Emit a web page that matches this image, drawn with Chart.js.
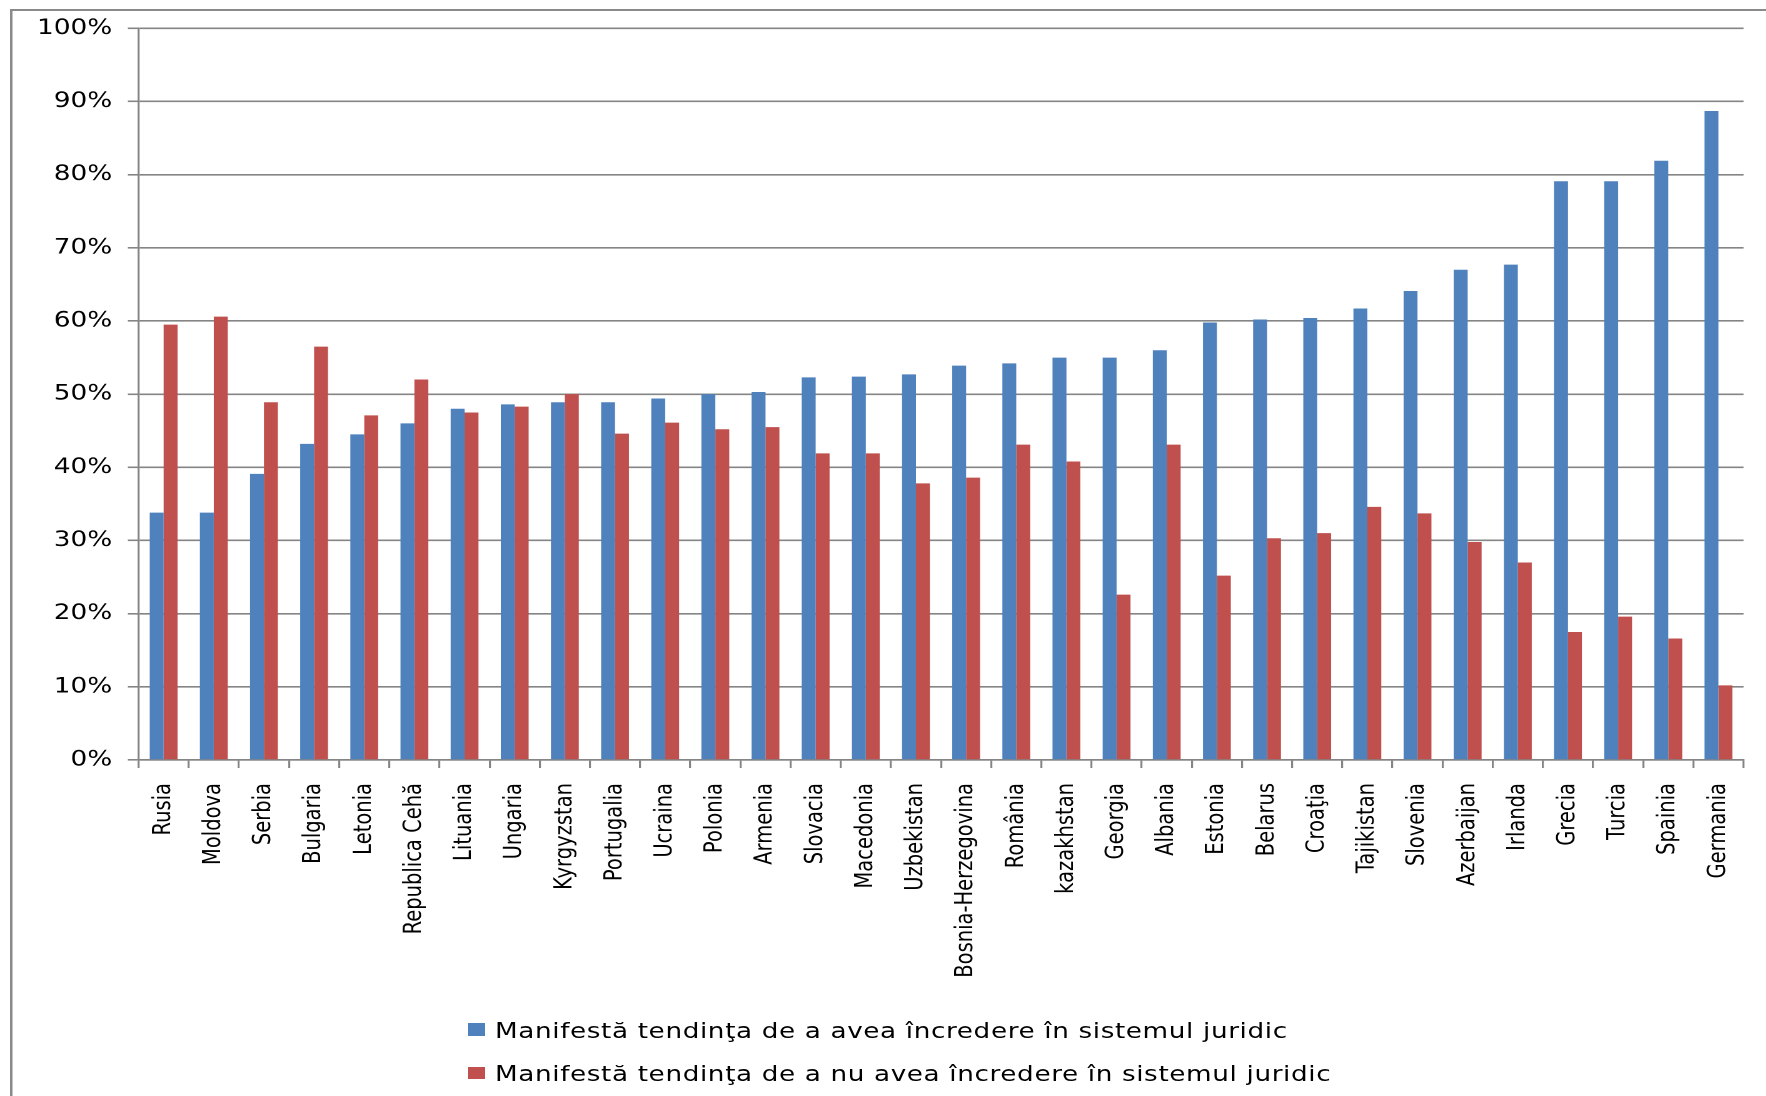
<!DOCTYPE html>
<html>
<head>
<meta charset="utf-8">
<script src="https://cdn.jsdelivr.net/npm/chart.js@4.4.0/dist/chart.umd.min.js"></script>
<style>
  html, body { margin: 0; padding: 0; background: #fff; overflow: hidden; }
  #wrap {
    position: absolute; left: 0; top: 0;
    width: 1412.8px; height: 1096px;
    transform: scaleX(1.25); transform-origin: 0 0;
  }
  #frame {
    position: absolute; left: 8px; top: 9px; right: -20px; bottom: -20px;
    border-left: 2.4px solid #8a8a8a; border-top: 2px solid #8a8a8a;
  }
  #box { position: absolute; left: 0; top: 0; width: 1412.8px; height: 1096px; }
  .leg { position: absolute; left: 373.6px; font: 21px "DejaVu Sans"; letter-spacing: 0.5px; color: #000; white-space: nowrap; line-height: 26px; }
  .sw { position: absolute; left: 0; width: 14.4px; height: 12.4px; }
</style>
</head>
<body>
<div id="wrap">
  <div id="frame"></div>
  <div id="box"><canvas id="c"></canvas></div>
  <div id="legend"></div>
</div>
<script>
let countries = ["Rusia", "Moldova", "Serbia", "Bulgaria", "Letonia", "Republica Cehă", "Lituania", "Ungaria",
    "Kyrgyzstan", "Portugalia", "Ucraina", "Polonia", "Armenia", "Slovacia", "Macedonia", "Uzbekistan",
    "Bosnia-Herzegovina", "România", "kazakhstan", "Georgia", "Albania", "Estonia", "Belarus", "Croaţia",
    "Tajikistan", "Slovenia", "Azerbaijan", "Irlanda", "Grecia", "Turcia", "Spainia", "Germania"];

let trust = [33.8, 33.8, 39.1, 43.2, 44.5, 46.0, 48.0, 48.6, 48.9, 48.9, 49.4, 50.0, 50.3, 52.3, 52.4, 52.7,
    53.9, 54.2, 55.0, 55.0, 56.0, 59.8, 60.2, 60.4, 61.7, 64.1, 67.0, 67.7, 79.1, 79.1, 81.9, 88.7];

let noTrust = [59.5, 60.6, 48.9, 56.5, 47.1, 52.0, 47.5, 48.3, 50.0, 44.6, 46.1, 45.2, 45.5, 41.9, 41.9, 37.8,
    38.6, 43.1, 40.8, 22.6, 43.1, 25.2, 30.3, 31.0, 34.6, 33.7, 29.8, 27.0, 17.5, 19.6, 16.6, 10.2];

let seriesNames = ["Manifestă tendinţa de a avea încredere în sistemul juridic",
    "Manifestă tendinţa de a nu avea încredere în sistemul juridic"];

let yTicks = [0, 10, 20, 30, 40, 50, 60, 70, 80, 90, 100];

let lineGray = "#858585";

let chart = new Chart(document.getElementById("c"), {
    type: "bar",
    data: {
        labels: countries,
        datasets: [
            { label: seriesNames[0], data: trust, backgroundColor: "#4f81bd" },
            { label: seriesNames[1], data: noTrust, backgroundColor: "#c0504d" }
        ]
    },
    options: {
        responsive: true,
        maintainAspectRatio: false,
        animation: false,
        devicePixelRatio: 2,
        layout: { padding: { left: 0, right: 9, top: 28.3, bottom: 0 } },
        datasets: { bar: { categoryPercentage: 0.555, barPercentage: 1 } },
        plugins: { legend: { display: false }, tooltip: { enabled: false } },
        scales: {
            x: {
                afterFit: function(scale) { scale.height = 336; },
                grid: { drawOnChartArea: false, tickLength: 8, color: lineGray, lineWidth: 1.6 },
                border: { color: lineGray, width: 1.6 },
                ticks: {
                    minRotation: 90, maxRotation: 90, padding: 15, autoSkip: false,
                    color: "#000", font: { family: "DejaVu Sans", size: 19.5 }
                }
            },
            y: {
                min: 0, max: 100,
                afterFit: function(scale) { scale.width = 110.8; },
                afterBuildTicks: function(scale) { scale.ticks = yTicks.map(v => ({ value: v })); },
                grid: { tickLength: 8.6, color: lineGray, lineWidth: 1.6 },
                border: { color: lineGray, width: 1.6 },
                ticks: {
                    padding: 12.5, color: "#000",
                    font: { family: "DejaVu Sans", size: 21 },
                    callback: v => v + "%"
                }
            }
        }
    }
});

// legend as real text, built from the chart's datasets
let legendTops = [1023.3, 1066.7];
let textTops = [1017.7, 1061.4];
let legend = document.getElementById("legend");
chart.data.datasets.forEach(function(ds, i) {
    let sw = document.createElement("div");
    sw.className = "sw";
    sw.style.left = "373.6px";
    sw.style.top = legendTops[i] + "px";
    sw.style.background = ds.backgroundColor;
    legend.appendChild(sw);

    let row = document.createElement("div");
    row.className = "leg";
    row.style.left = "396px";
    row.style.top = textTops[i] + "px";
    row.innerText = ds.label;
    legend.appendChild(row);
});
</script>
</body>
</html>
